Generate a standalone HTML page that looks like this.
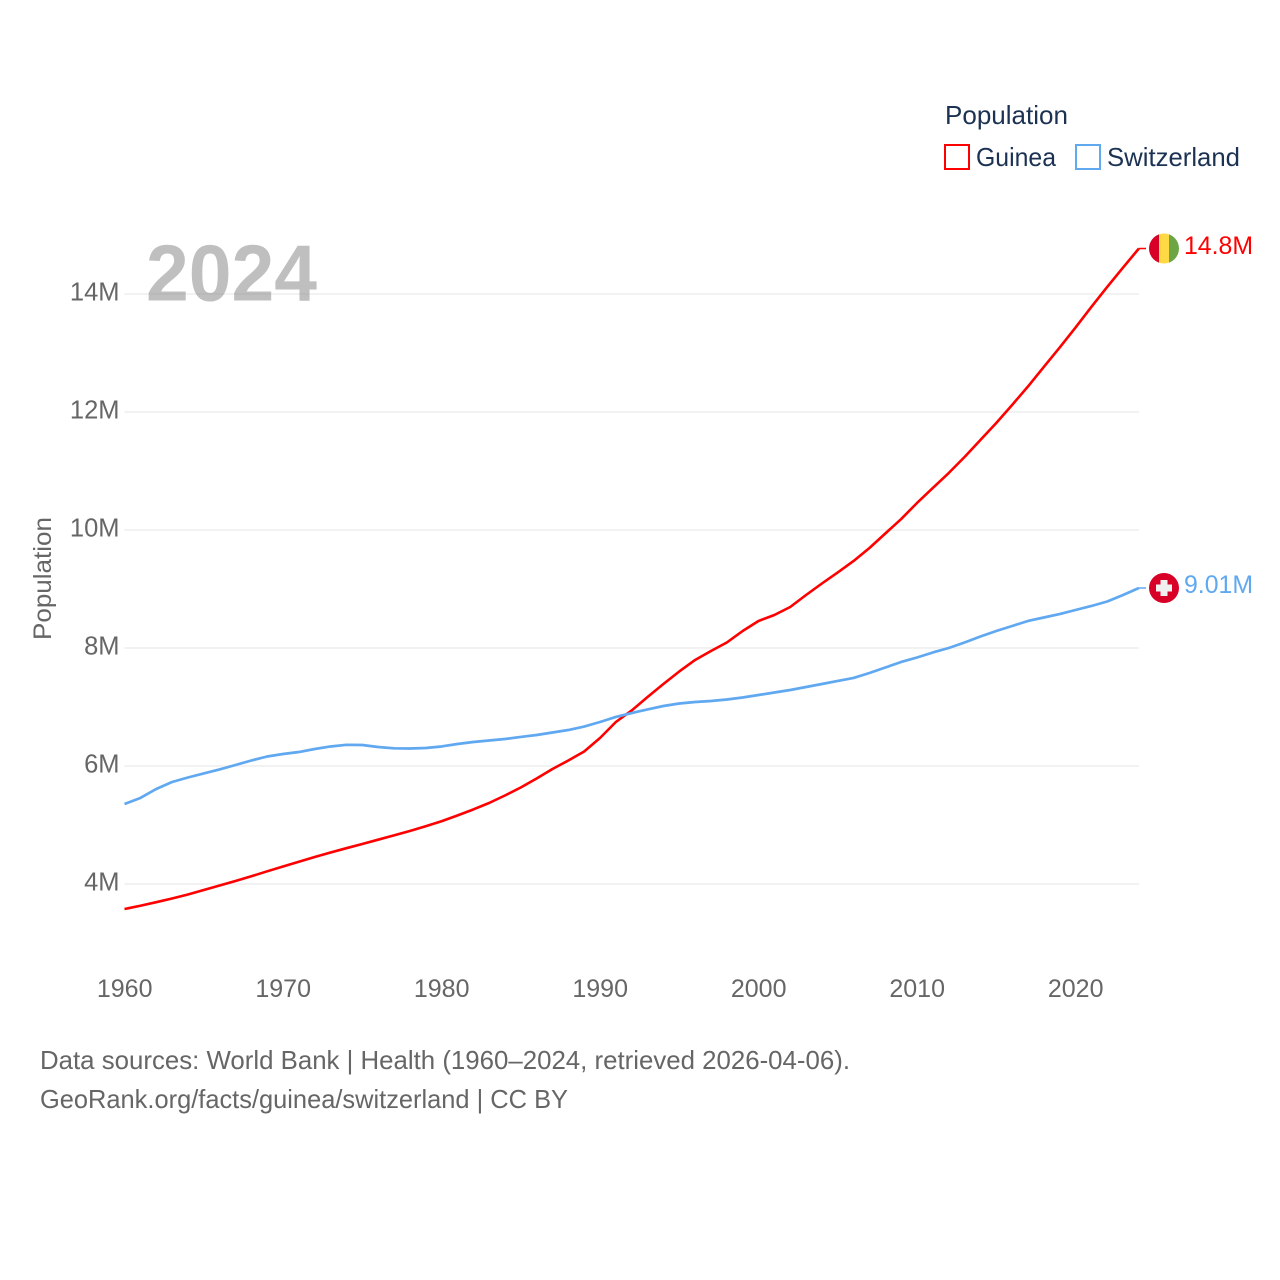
<!DOCTYPE html>
<html lang="en">
<head>
<meta charset="utf-8">
<title>Population: Guinea and Switzerland</title>
<style>
html,body{margin:0;padding:0;background:#fff;}
svg{display:block;font-family:"Liberation Sans",sans-serif;}
</style>
</head>
<body>
<svg id="chart" width="1280" height="1280" viewBox="0 0 1280 1280" xmlns="http://www.w3.org/2000/svg">
  <rect width="1280" height="1280" fill="#fff"/>
  <g id="grid"></g>
  <g id="yticks"></g>
  <g id="xticks"></g>
  <text transform="translate(51,640) rotate(-90)" font-size="25" fill="#666" textLength="123" lengthAdjust="spacingAndGlyphs">Population</text>
  <text x="146" y="300.5" font-size="80" font-weight="bold" fill="#808080" fill-opacity="0.5" textLength="171" lengthAdjust="spacingAndGlyphs">2024</text>
  <g id="series"></g>
  <g>
    <text x="945" y="124" font-size="26" fill="#1b3252" textLength="123" lengthAdjust="spacingAndGlyphs">Population</text>
    <g>
      <rect x="945" y="145" width="24" height="24" fill="none" stroke="#ff0000" stroke-width="2"/>
      <text x="976" y="166" font-size="26" fill="#1b3252" textLength="80" lengthAdjust="spacingAndGlyphs">Guinea</text>
    </g>
    <g>
      <rect x="1076" y="145" width="24" height="24" fill="none" stroke="#60a8f0" stroke-width="2"/>
      <text x="1107" y="166" font-size="26" fill="#1b3252" textLength="133" lengthAdjust="spacingAndGlyphs">Switzerland</text>
    </g>
  </g>
  <g id="flags"></g>
  <g>
    <text x="40" y="1069" font-size="26" fill="#666" textLength="810" lengthAdjust="spacingAndGlyphs">Data sources: World Bank | Health (1960–2024, retrieved 2026-04-06).</text>
    <text x="40" y="1108" font-size="26" fill="#666" textLength="528" lengthAdjust="spacingAndGlyphs">GeoRank.org/facts/guinea/switzerland | CC BY</text>
  </g>
</svg>
<script>
const startYear = 1960;
const xTickYears = [1960, 1970, 1980, 1990, 2000, 2010, 2020];
const yTickValues = [4, 6, 8, 10, 12, 14];
const guineaValues = [
  3.576,3.632,3.692,3.754,3.822,3.898,3.975,4.051,4.131,4.215,
  4.297,4.378,4.458,4.534,4.607,4.678,4.751,4.824,4.898,4.978,
  5.063,5.161,5.263,5.373,5.500,5.636,5.788,5.949,6.093,6.246,
  6.475,6.746,6.941,7.169,7.390,7.602,7.797,7.949,8.093,8.288,
  8.458,8.559,8.695,8.898,9.093,9.280,9.475,9.695,9.941,10.186,
  10.458,10.712,10.966,11.237,11.525,11.814,12.119,12.432,12.763,13.093,
  13.432,13.780,14.119,14.449,14.771
];
const switzerlandValues = [
  5.356,5.458,5.610,5.729,5.805,5.873,5.941,6.017,6.093,6.161,
  6.203,6.237,6.288,6.331,6.359,6.356,6.322,6.300,6.297,6.305,
  6.331,6.373,6.407,6.432,6.458,6.492,6.525,6.568,6.610,6.669,
  6.746,6.831,6.898,6.958,7.017,7.059,7.085,7.102,7.127,7.161,
  7.203,7.246,7.288,7.339,7.390,7.441,7.492,7.576,7.669,7.763,
  7.839,7.924,8.000,8.093,8.195,8.288,8.373,8.458,8.517,8.576,
  8.644,8.712,8.788,8.898,9.017
];
const guineaEndLabel = "14.8M";
const switzerlandEndLabel = "9.01M";

const NS = "http://www.w3.org/2000/svg";
function xScale(year) { return 124.5 + (year - 1960) * 15.85; }
function yScale(value) { return 884 - (value - 4) * 59; }
function make(tag, attrs, parent) {
  const el = document.createElementNS(NS, tag);
  for (const k in attrs) el.setAttribute(k, attrs[k]);
  parent.appendChild(el);
  return el;
}
function linePoints(values) {
  return values.map((v, i) => xScale(startYear + i).toFixed(2) + "," + yScale(v).toFixed(2)).join(" ");
}

const gridGroup = document.getElementById("grid");
const yGroup = document.getElementById("yticks");
const xGroup = document.getElementById("xticks");
const seriesGroup = document.getElementById("series");
const flagGroup = document.getElementById("flags");
const plotRight = xScale(startYear + guineaValues.length - 1);

yTickValues.forEach(function (v) {
  const line = make("line", {x1: 124.5, x2: plotRight, y1: yScale(v), y2: yScale(v), stroke: "#eeeeee", "stroke-width": 1.6}, gridGroup);
  
  
  const label = make("text", {x: 119.5, y: yScale(v) + 6.5, "text-anchor": "end", "font-size": 25.5, fill: "#666"}, yGroup);
  label.textContent = v + "M";
  
  
});

xTickYears.forEach(function (year) {
  const label = make("text", {x: xScale(year) + 0.2, y: 997, "text-anchor": "middle", "font-size": 25, fill: "#666"}, xGroup);
  label.textContent = String(year);
  
  
});

const guineaLine = make("polyline", {points: linePoints(guineaValues), fill: "none", stroke: "#ff0000", "stroke-width": 2.6, "stroke-linejoin": "round"}, seriesGroup);


const swissLine = make("polyline", {points: linePoints(switzerlandValues), fill: "none", stroke: "#60a8f0", "stroke-width": 2.7, "stroke-linejoin": "round"}, seriesGroup);



const guineaY = yScale(guineaValues[guineaValues.length - 1]);
const swissY = yScale(switzerlandValues[switzerlandValues.length - 1]);

const guineaStub = make("line", {x1: plotRight, x2: 1146, y1: guineaY, y2: guineaY, stroke: "#ff0000", "stroke-width": 1.5}, flagGroup);


const swissStub = make("line", {x1: plotRight, x2: 1146, y1: swissY, y2: swissY, stroke: "#60a8f0", "stroke-width": 1.5}, flagGroup);



const clip = make("clipPath", {id: "guinea-clip"}, flagGroup);
make("circle", {cx: 1164, cy: guineaY, r: 15}, clip);
const guineaFlag = make("g", {"clip-path": "url(#guinea-clip)"}, flagGroup);


make("rect", {x: 1149, y: guineaY - 15, width: 10, height: 30, fill: "#d80027"}, guineaFlag);
make("rect", {x: 1159, y: guineaY - 15, width: 10, height: 30, fill: "#ffda44"}, guineaFlag);
make("rect", {x: 1169, y: guineaY - 15, width: 10, height: 30, fill: "#6da544"}, guineaFlag);

const swissFlag = make("g", {}, flagGroup);


make("circle", {cx: 1164, cy: swissY, r: 15, fill: "#d80027"}, swissFlag);
make("rect", {x: 1156, y: swissY - 3.5, width: 16, height: 7, fill: "#f0f0f0"}, swissFlag);
make("rect", {x: 1160.5, y: swissY - 8, width: 7, height: 16, fill: "#f0f0f0"}, swissFlag);

const guineaValueLabel = make("text", {x: 1184, y: guineaY + 5.5, "font-size": 25, fill: "#ff0000", textLength: 69, lengthAdjust: "spacingAndGlyphs"}, flagGroup);
guineaValueLabel.textContent = guineaEndLabel;


const swissValueLabel = make("text", {x: 1184, y: swissY + 5, "font-size": 25, fill: "#60a8f0", textLength: 69, lengthAdjust: "spacingAndGlyphs"}, flagGroup);
swissValueLabel.textContent = switzerlandEndLabel;


</script>
</body>
</html>
